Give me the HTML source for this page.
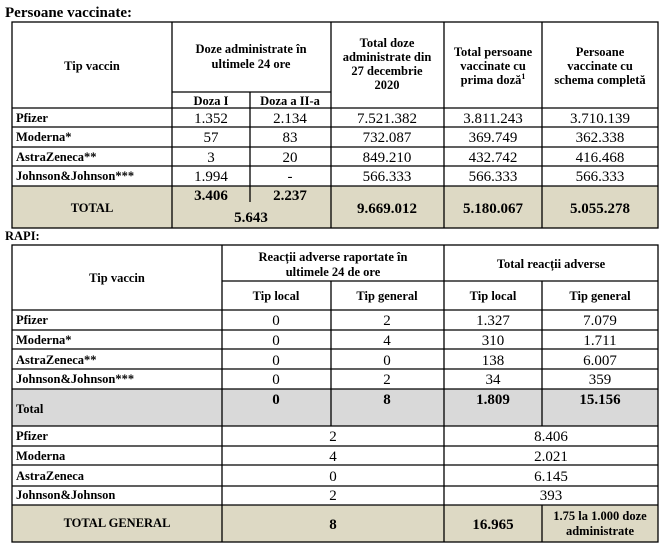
<!DOCTYPE html>
<html><head><meta charset="utf-8"><style>
html,body{margin:0;padding:0;background:#fff;}
svg{display:block;font-family:"Liberation Serif",serif;}
.b{font-weight:bold;font-size:12.5px;}
.h{font-weight:bold;font-size:12.5px;text-anchor:middle;}
.v{font-size:15px;text-anchor:middle;}
.t{font-weight:bold;font-size:15px;text-anchor:middle;}
</style></head><body>
<svg width="666" height="550" viewBox="0 0 666 550" xmlns="http://www.w3.org/2000/svg">
<text x="5" y="17" font-weight="bold" font-size="15">Persoane vaccinate:</text>
<rect x="12" y="186" width="646" height="42" fill="#ddd9c4"/>
<g stroke="#000" stroke-width="1.3" fill="none">
<rect x="12" y="22" width="646" height="206"/>
<line x1="12" y1="108" x2="658" y2="108"/><line x1="12" y1="127" x2="658" y2="127"/>
<line x1="12" y1="147" x2="658" y2="147"/><line x1="12" y1="166" x2="658" y2="166"/>
<line x1="12" y1="186" x2="658" y2="186"/>
<line x1="172" y1="92" x2="331" y2="92"/>
<line x1="172" y1="22" x2="172" y2="228"/><line x1="331" y1="22" x2="331" y2="228"/>
<line x1="444" y1="22" x2="444" y2="228"/><line x1="542" y1="22" x2="542" y2="228"/>
<line x1="250" y1="92" x2="250" y2="202"/>
</g>
<text class="h" x="92" y="70">Tip vaccin</text>
<text class="h" x="251" y="53">Doze administrate în</text>
<text class="h" x="251" y="68">ultimele 24 ore</text>
<text class="h" x="211" y="105">Doza I</text>
<text class="h" x="290" y="105">Doza a II-a</text>
<text class="h" x="387" y="47">Total doze</text>
<text class="h" x="387" y="61">administrate din</text>
<text class="h" x="387" y="75">27 decembrie</text>
<text class="h" x="387" y="89">2020</text>
<text class="h" x="493" y="56">Total persoane</text>
<text class="h" x="493" y="70">vaccinate cu</text>
<text class="h" x="493" y="84">prima doză<tspan font-size="8" dy="-5">1</tspan></text>
<text class="h" x="600" y="56">Persoane</text>
<text class="h" x="600" y="70">vaccinate cu</text>
<text class="h" x="600" y="84">schema completă</text>
<text class="b" x="16" y="122">Pfizer</text>
<text class="v" x="211" y="123">1.352</text><text class="v" x="290" y="123">2.134</text><text class="v" x="387" y="123">7.521.382</text><text class="v" x="493" y="123">3.811.243</text><text class="v" x="600" y="123">3.710.139</text>
<text class="b" x="16" y="141">Moderna*</text>
<text class="v" x="211" y="142">57</text><text class="v" x="290" y="142">83</text><text class="v" x="387" y="142">732.087</text><text class="v" x="493" y="142">369.749</text><text class="v" x="600" y="142">362.338</text>
<text class="b" x="16" y="161">AstraZeneca**</text>
<text class="v" x="211" y="162">3</text><text class="v" x="290" y="162">20</text><text class="v" x="387" y="162">849.210</text><text class="v" x="493" y="162">432.742</text><text class="v" x="600" y="162">416.468</text>
<text class="b" x="16" y="180">Johnson&amp;Johnson***</text>
<text class="v" x="211" y="181">1.994</text><text class="v" x="290" y="181">-</text><text class="v" x="387" y="181">566.333</text><text class="v" x="493" y="181">566.333</text><text class="v" x="600" y="181">566.333</text>
<text class="h" x="92" y="212">TOTAL</text>
<text class="t" x="211" y="200">3.406</text><text class="t" x="290" y="200">2.237</text>
<text class="t" x="251" y="222">5.643</text>
<text class="t" x="387" y="213">9.669.012</text><text class="t" x="493" y="213">5.180.067</text><text class="t" x="600" y="213">5.055.278</text>

<text x="5" y="240" font-weight="bold" font-size="12.5">RAPI:</text>
<rect x="12" y="389" width="646" height="37" fill="#d9d9d9"/>
<rect x="12" y="505" width="646" height="37" fill="#ddd9c4"/>
<g stroke="#000" stroke-width="1.3" fill="none">
<rect x="12" y="245" width="646" height="297"/>
<line x1="222" y1="281" x2="658" y2="281"/>
<line x1="12" y1="310" x2="658" y2="310"/><line x1="12" y1="330" x2="658" y2="330"/>
<line x1="12" y1="349" x2="658" y2="349"/><line x1="12" y1="369" x2="658" y2="369"/>
<line x1="12" y1="389" x2="658" y2="389"/><line x1="12" y1="426" x2="658" y2="426"/>
<line x1="12" y1="446" x2="658" y2="446"/><line x1="12" y1="465" x2="658" y2="465"/>
<line x1="12" y1="486" x2="658" y2="486"/><line x1="12" y1="505" x2="658" y2="505"/>
<line x1="222" y1="245" x2="222" y2="542"/><line x1="444" y1="245" x2="444" y2="542"/>
<line x1="331" y1="281" x2="331" y2="426"/><line x1="542" y1="281" x2="542" y2="426"/>
<line x1="542" y1="505" x2="542" y2="542"/>
</g>
<text class="h" x="117" y="282">Tip vaccin</text>
<text class="h" x="333" y="261">Reacții adverse raportate în</text>
<text class="h" x="333" y="276">ultimele 24 de ore</text>
<text class="h" x="551" y="268">Total reacții adverse</text>
<text class="h" x="276" y="300">Tip local</text><text class="h" x="387" y="300">Tip general</text>
<text class="h" x="493" y="300">Tip local</text><text class="h" x="600" y="300">Tip general</text>
<text class="b" x="16" y="324">Pfizer</text>
<text class="v" x="276" y="325">0</text><text class="v" x="387" y="325">2</text><text class="v" x="493" y="325">1.327</text><text class="v" x="600" y="325">7.079</text>
<text class="b" x="16" y="344">Moderna*</text>
<text class="v" x="276" y="345">0</text><text class="v" x="387" y="345">4</text><text class="v" x="493" y="345">310</text><text class="v" x="600" y="345">1.711</text>
<text class="b" x="16" y="364">AstraZeneca**</text>
<text class="v" x="276" y="365">0</text><text class="v" x="387" y="365">0</text><text class="v" x="493" y="365">138</text><text class="v" x="600" y="365">6.007</text>
<text class="b" x="16" y="383">Johnson&amp;Johnson***</text>
<text class="v" x="276" y="384">0</text><text class="v" x="387" y="384">2</text><text class="v" x="493" y="384">34</text><text class="v" x="600" y="384">359</text>
<text class="b" x="16" y="413">Total</text>
<text class="t" x="276" y="404">0</text><text class="t" x="387" y="404">8</text><text class="t" x="493" y="404">1.809</text><text class="t" x="600" y="404">15.156</text>
<text class="b" x="16" y="440">Pfizer</text>
<text class="v" x="333" y="441">2</text><text class="v" x="551" y="441">8.406</text>
<text class="b" x="16" y="460">Moderna</text>
<text class="v" x="333" y="461">4</text><text class="v" x="551" y="461">2.021</text>
<text class="b" x="16" y="480">AstraZeneca</text>
<text class="v" x="333" y="481">0</text><text class="v" x="551" y="481">6.145</text>
<text class="b" x="16" y="499">Johnson&amp;Johnson</text>
<text class="v" x="333" y="500">2</text><text class="v" x="551" y="500">393</text>
<text class="h" x="117" y="527">TOTAL GENERAL</text>
<text class="t" x="333" y="529">8</text>
<text class="t" x="493" y="529">16.965</text>
<text class="h" x="600" y="520">1.75 la 1.000 doze</text>
<text class="h" x="600" y="535">administrate</text>
</svg>
</body></html>
